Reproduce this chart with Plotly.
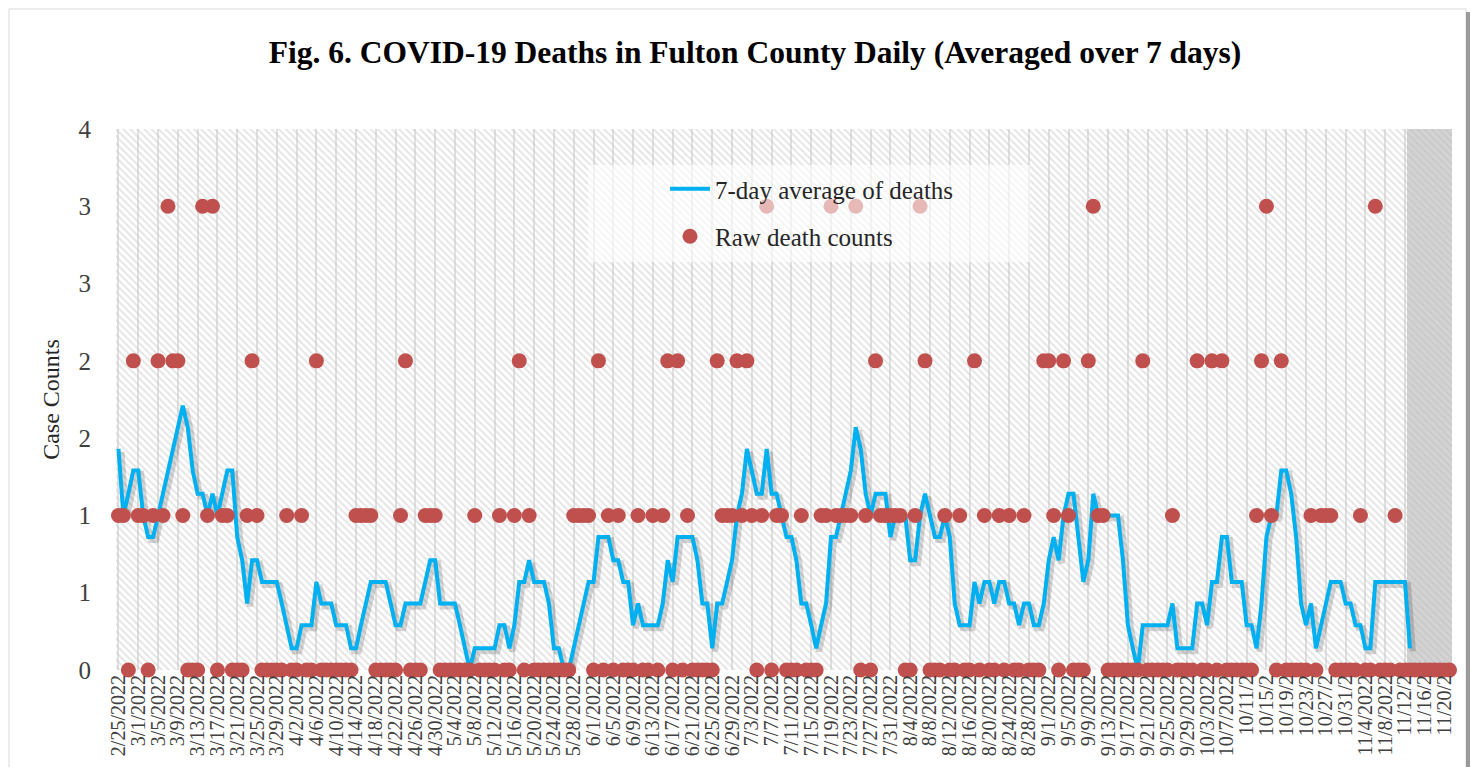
import pandas as pd
import plotly.graph_objects as go

# one category per day, 2/25/2022 .. 11/21/2022
days = pd.date_range("2022-02-25", "2022-11-21", freq="D")
day_labels = [f"{d.month}/{d.day}/{d.year}" for d in days]

# raw daily death counts (10 days per row)
raw_deaths = [
    1, 1, 0, 2, 1, 1, 0, 1, 2, 1,
    3, 2, 2, 1, 0, 0, 0, 3, 1, 3,
    0, 1, 1, 0, 0, 0, 1, 2, 1, 0,
    0, 0, 0, 0, 1, 0, 0, 1, 0, 0,
    2, 0, 0, 0, 0, 0, 0, 0, 1, 1,
    1, 1, 0, 0, 0, 0, 0, 1, 2, 0,
    0, 0, 1, 1, 1, 0, 0, 0, 0, 0,
    0, 0, 1, 0, 0, 0, 0, 1, 0, 0,
    1, 2, 0, 1, 0, 0, 0, 0, 0, 0,
    0, 0, 1, 1, 1, 1, 0, 2, 0, 1,
    0, 1, 0, 0, 0, 1, 0, 0, 1, 0,
    1, 2, 0, 2, 0, 1, 0, 0, 0, 0,
    0, 2, 1, 1, 1, 2, 1, 2, 1, 0,
    1, 3, 0, 1, 1, 0, 0, 0, 1, 0,
    0, 0, 1, 1, 3, 1, 1, 1, 1, 3,
    0, 1, 0, 2, 1, 1, 1, 1, 1, 0,
    0, 1, 3, 2, 0, 0, 0, 1, 0, 0,
    1, 0, 0, 2, 0, 1, 0, 0, 1, 0,
    1, 0, 0, 1, 0, 0, 0, 2, 2, 1,
    0, 2, 1, 0, 0, 0, 2, 3, 1, 1,
    0, 0, 0, 0, 0, 0, 0, 2, 0, 0,
    0, 0, 0, 1, 0, 0, 0, 0, 2, 0,
    0, 2, 0, 2, 0, 0, 0, 0, 0, 0,
    1, 2, 3, 1, 0, 2, 0, 0, 0, 0,
    0, 1, 0, 1, 1, 1, 0, 0, 0, 0,
    0, 1, 0, 0, 3, 0, 0, 0, 1, 0,
    0, 0, 0, 0, 0, 0, 0, 0, 0, 0,
]

# 7-day average line as drawn (stops on 11/13)
avg_deaths = [
    1.43, 1.0, 1.14, 1.29, 1.29, 1.0, 0.86, 0.86, 1.0, 1.14,
    1.29, 1.43, 1.57, 1.71, 1.57, 1.29, 1.14, 1.14, 1.0, 1.14,
    1.0, 1.14, 1.29, 1.29, 0.86, 0.71, 0.43, 0.71, 0.71, 0.57,
    0.57, 0.57, 0.57, 0.43, 0.29, 0.14, 0.14, 0.29, 0.29, 0.29,
    0.57, 0.43, 0.43, 0.43, 0.29, 0.29, 0.29, 0.14, 0.14, 0.29,
    0.43, 0.57, 0.57, 0.57, 0.57, 0.43, 0.29, 0.29, 0.43, 0.43,
    0.43, 0.43, 0.57, 0.71, 0.71, 0.43, 0.43, 0.43, 0.43, 0.29,
    0.14, 0.0, 0.14, 0.14, 0.14, 0.14, 0.14, 0.29, 0.29, 0.14,
    0.29, 0.57, 0.57, 0.71, 0.57, 0.57, 0.57, 0.43, 0.14, 0.14,
    0.0, 0.0, 0.14, 0.29, 0.43, 0.57, 0.57, 0.86, 0.86, 0.86,
    0.71, 0.71, 0.57, 0.57, 0.29, 0.43, 0.29, 0.29, 0.29, 0.29,
    0.43, 0.71, 0.57, 0.86, 0.86, 0.86, 0.86, 0.71, 0.43, 0.43,
    0.14, 0.43, 0.43, 0.57, 0.71, 1.0, 1.14, 1.43, 1.29, 1.14,
    1.14, 1.43, 1.14, 1.14, 1.0, 0.86, 0.86, 0.71, 0.43, 0.43,
    0.29, 0.14, 0.29, 0.43, 0.86, 0.86, 1.0, 1.14, 1.29, 1.57,
    1.43, 1.14, 1.0, 1.14, 1.14, 1.14, 0.86, 1.0, 1.0, 1.0,
    0.71, 0.71, 1.0, 1.14, 1.0, 0.86, 0.86, 1.0, 0.86, 0.43,
    0.29, 0.29, 0.29, 0.57, 0.43, 0.57, 0.57, 0.43, 0.57, 0.57,
    0.43, 0.43, 0.29, 0.43, 0.43, 0.29, 0.29, 0.43, 0.71, 0.86,
    0.71, 1.0, 1.14, 1.14, 0.86, 0.57, 0.71, 1.14, 1.0, 1.0,
    1.0, 1.0, 1.0, 0.71, 0.29, 0.14, 0.0, 0.29, 0.29, 0.29,
    0.29, 0.29, 0.29, 0.43, 0.14, 0.14, 0.14, 0.14, 0.43, 0.43,
    0.29, 0.57, 0.57, 0.86, 0.86, 0.57, 0.57, 0.57, 0.29, 0.29,
    0.14, 0.43, 0.86, 1.0, 1.0, 1.29, 1.29, 1.14, 0.86, 0.43,
    0.29, 0.43, 0.14, 0.29, 0.43, 0.57, 0.57, 0.57, 0.43, 0.43,
    0.29, 0.29, 0.14, 0.14, 0.57, 0.57, 0.57, 0.57, 0.57, 0.57,
    0.57, 0.14,
]
avg_deaths = avg_deaths + [None] * (len(day_labels) - len(avg_deaths))

# y ticks are Excel's rounded half-steps
y_ticks = [0, 0.5, 1, 1.5, 2, 2.5, 3, 3.5]
y_tick_text = ["0", "1", "1", "2", "2", "3", "3", "4"]
y_max = 3.5

# every 4th day labelled, long labels cut the way Excel did
x_ticks = day_labels[::4]
x_tick_text = [s if len(s) <= 9 else s[:7] for s in x_ticks]

first_shaded = "11/13/2022"  # incomplete data region
n_days = len(day_labels)
n_shaded = n_days - day_labels.index(first_shaded)

SERIF = "Liberation Serif"

# page body has an 8px margin, so the figure itself starts at (8, 8)
OFF = 8
W, H = 1481 - 2 * OFF, 775 - 2 * OFF
# plot area wanted at page x 116..1452, y 129..670
PL, PR, PT, PB = 116, 1452, 129, 670


def px_x(p):
    return (p - PL) / (PR - PL)


def px_y(p):
    return (PB - p) / (PB - PT)


# drop shadow of the line: same data on an overlay axis pair nudged ~3px
shadow_dx = 3 / ((PR - PL) / n_days)
shadow_dy = 3 / ((PB - PT) / y_max)

fig = go.Figure()

# hatched plot background
fig.add_trace(go.Bar(
    x=[day_labels[0]], y=[y_max], width=[n_days], offset=-0.5,
    marker=dict(color="#c9c9c9", line_width=0,
                pattern=dict(shape="\\", size=5, solidity=0.38,
                             fgcolor="#c9c9c9", bgcolor="rgba(255,255,255,0)")),
    showlegend=False, hoverinfo="skip",
))
# darker hatched block at the end
fig.add_trace(go.Bar(
    x=[first_shaded], y=[y_max], width=[n_shaded], offset=-0.5,
    marker=dict(color="#d3d3d3", line_width=0,
                pattern=dict(shape="\\", size=5, solidity=0.3,
                             fgcolor="#bcbcbc", fillmode="overlay")),
    showlegend=False, hoverinfo="skip",
))

fig.add_trace(go.Scatter(
    x=day_labels, y=avg_deaths, mode="lines", xaxis="x2", yaxis="y2",
    line=dict(color="rgba(0,0,0,0.16)", width=6),
    showlegend=False, hoverinfo="skip", cliponaxis=False,
))
fig.add_trace(go.Scatter(
    x=day_labels, y=avg_deaths, mode="lines", xaxis="x3", yaxis="y3",
    name="7-day average of deaths",
    line=dict(color="#00b0f0", width=4),
    legendgroup="a", cliponaxis=False,
))
fig.add_trace(go.Scatter(
    x=day_labels, y=raw_deaths, mode="markers", xaxis="x3", yaxis="y3",
    name="Raw death counts",
    marker=dict(color="#c0504d", size=15, line_width=0),
    legendgroup="b", cliponaxis=False,
))

shapes = [
    # card border with a shadow strip on the right and bottom
    dict(type="rect", xref="paper", yref="paper", layer="below",
         x0=px_x(OFF + 1), x1=px_x(1466), y0=px_y(768), y1=px_y(OFF + 1),
         fillcolor="rgba(0,0,0,0)", line=dict(color="#d9d9d9", width=1)),
    dict(type="rect", xref="paper", yref="paper", layer="below",
         x0=px_x(1466), x1=px_x(1470), y0=px_y(772), y1=px_y(OFF + 4),
         fillcolor="#9a9a9a", line_width=0),
    dict(type="rect", xref="paper", yref="paper", layer="below",
         x0=px_x(OFF + 4), x1=px_x(1470), y0=px_y(772), y1=px_y(768),
         fillcolor="#9a9a9a", line_width=0),
    # translucent legend panel
    dict(type="rect", xref="paper", yref="paper", layer="above",
         x0=px_x(588), x1=px_x(1030), y0=px_y(262), y1=px_y(165),
         fillcolor="rgba(255,255,255,0.6)", line_width=0),
]

hidden = dict(visible=False, showgrid=False, zeroline=False)
cat_axis = dict(type="category", categoryorder="array", categoryarray=day_labels)

fig.update_layout(
    width=W, height=H,
    margin=dict(l=PL - OFF, r=W - (PR - OFF), t=PT - OFF, b=H - (PB - OFF), autoexpand=False),
    paper_bgcolor="white", plot_bgcolor="white",
    barmode="overlay", bargap=0,
    title=dict(text="<b>Fig. 6. COVID-19 Deaths in Fulton County Daily (Averaged over 7 days)</b>",
               x=(755 - OFF) / W, xref="container", y=1 - (52 - OFF) / H, yref="container",
               xanchor="center", yanchor="middle",
               font=dict(family=SERIF, size=31.5, color="black")),
    font=dict(family=SERIF, color="#404040"),
    showlegend=True,
    legend=dict(x=px_x(665), y=px_y(166), xanchor="left", yanchor="top",
                bgcolor="rgba(0,0,0,0)", font=dict(family=SERIF, size=25, color="#262626"),
                traceorder="grouped", tracegroupgap=12, itemwidth=40),
    shapes=shapes,
    xaxis=dict(
        **cat_axis,
        range=[-0.5, n_days - 0.5],
        tickmode="array", tickvals=x_ticks, ticktext=x_tick_text,
        tickangle=-90, tickfont=dict(family=SERIF, size=20, color="#404040"),
        showgrid=True, gridcolor="#e0e0e0", gridwidth=2,
        showline=False, zeroline=False, ticks="", automargin=False,
    ),
    yaxis=dict(
        range=[0, y_max], tickmode="array", tickvals=y_ticks, ticktext=y_tick_text,
        tickfont=dict(family=SERIF, size=25, color="#404040"),
        ticks="outside", ticklen=19, tickcolor="rgba(0,0,0,0)",
        showgrid=False, zeroline=False, showline=False,
        title=dict(text="Case Counts", standoff=12,
                   font=dict(family=SERIF, size=24, color="#262626")),
        automargin=False,
    ),
    xaxis2=dict(overlaying="x", range=[-0.5 - shadow_dx, n_days - 0.5 - shadow_dx],
                **cat_axis, **hidden),
    yaxis2=dict(overlaying="y", range=[shadow_dy, y_max + shadow_dy], **hidden),
    xaxis3=dict(overlaying="x", range=[-0.5, n_days - 0.5], **cat_axis, **hidden),
    yaxis3=dict(overlaying="y", range=[0, y_max], **hidden),
)

fig.write_html("out.html")
